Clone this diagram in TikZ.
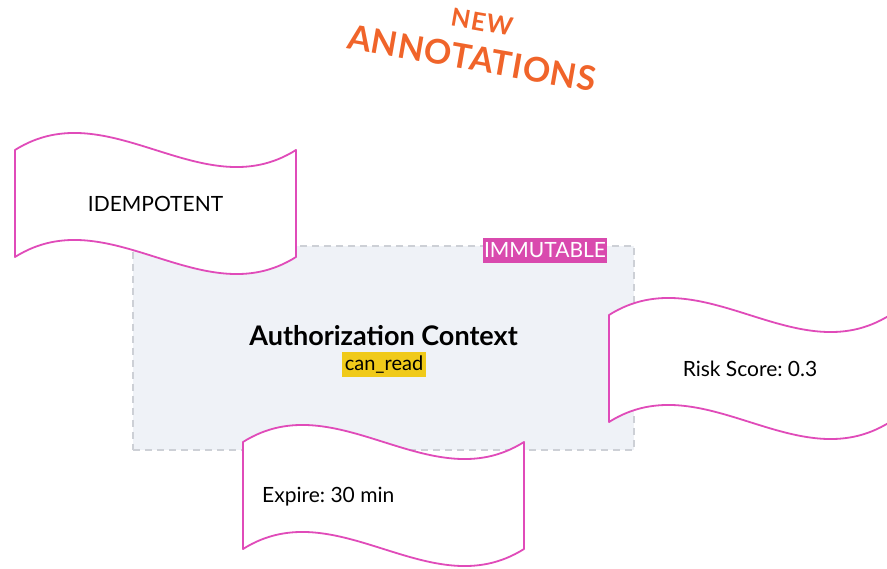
\documentclass[tikz,border=0pt]{standalone}
\usepackage{fontspec}
\setmainfont{Lato}
\definecolor{flagpink}{HTML}{E04BB9}
\definecolor{tagpink}{HTML}{D94AAE}
\definecolor{titleorange}{HTML}{F0642A}
\definecolor{panelfill}{HTML}{EFF2F7}
\definecolor{paneldash}{HTML}{CDD0D6}
\definecolor{permyellow}{HTML}{F0CA1A}
\tikzset{
  flagline/.style={draw=flagpink, line width=1.8pt, fill=white, line join=round},
  wave flag/.pic={
    \path[flagline] (0,0) .. controls (93.7,-59) and (187.3,59) .. (281,0)
      -- (281,107) .. controls (187.3,166) and (93.7,48) .. (0,107) -- cycle;
  },
  flagtext/.style={font=\fontsize{21}{25}\selectfont, text=black, inner sep=0pt},
  headline/.style={text=titleorange, rotate=-10, inner sep=0pt},
  panel/.style={draw=paneldash, fill=panelfill, line width=1.5pt, dash pattern=on 7pt off 5pt},
}
\frenchspacing
\begin{document}
\begin{tikzpicture}[x=1pt, y=-1pt]
  \useasboundingbox (0,0) rectangle (887,569);
  \begin{scope}
    \clip (0,0) rectangle (887,569);

    % heading
    \node[headline, font=\bfseries\fontsize{25}{28}\selectfont\addfontfeature{LetterSpace=4}]
      (new) at (482,22) {NEW};
    \node[headline, font=\bfseries\fontsize{34}{38}\selectfont\addfontfeature{LetterSpace=2}]
      (annotations) at (472,58) {ANNOTATIONS};

    % central context panel
    \node[panel, minimum width=501pt, minimum height=204pt, inner sep=0pt]
      (ctx) at (383.5,348) {};
    \node[font=\bfseries\fontsize{27}{32}\selectfont, inner sep=0pt] (ctxtitle) at (383.5,336) {Authorization Context};
    \node[fill=permyellow, font=\fontsize{20}{24}\selectfont, inner sep=0pt,
          minimum width=84pt, minimum height=25pt] (perm) at (384,364.5) {can\_read};
    \node[fill=tagpink, text=white, font=\fontsize{21}{25}\selectfont, inner sep=0pt,
          minimum width=124pt, minimum height=25pt] (immutable) at (545,250.5) {IMMUTABLE};

    % annotation flags
    \pic at (15,150) {wave flag};
    \node[flagtext] (idem) at (155.5,203.5) {IDEMPOTENT};

    \pic at (609,315) {wave flag};
    \node[flagtext] (risk) at (750,368.5) {Risk Score: 0.3};

    \pic at (243,442) {wave flag};
    \node[flagtext, anchor=west] (expire) at (262,497) {Expire: 30 min};
  \end{scope}
\end{tikzpicture}
\end{document}
